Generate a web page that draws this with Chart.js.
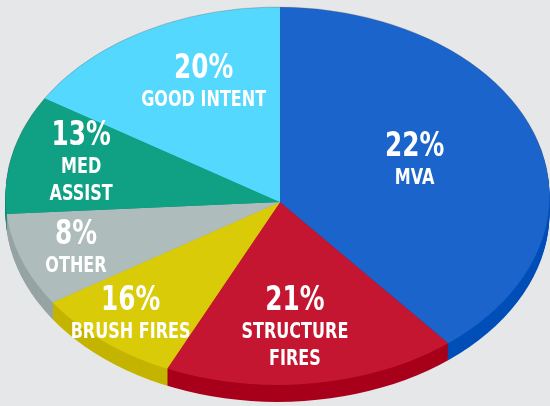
<!DOCTYPE html>
<html>
<head>
<meta charset="utf-8">
<title>Incidents</title>
<script src="https://cdn.jsdelivr.net/npm/chart.js@4.4.1/dist/chart.umd.min.js"></script>
<style>
    html, body { margin: 0; padding: 0; background: #e6e7e9; }
    #wrap { width: 550px; height: 406px; }
</style>
</head>
<body>
<div id="wrap"><canvas id="myChart" width="550" height="406"></canvas></div>
<script>
// data
var categories = [['MVA'], ['STRUCTURE', 'FIRES'], ['BRUSH FIRES'], ['OTHER'], ['MED', 'ASSIST'], ['GOOD INTENT']];
var percentLabels = ['22%', '21%', '16%', '8%', '13%', '20%'];
// slice sizes as they are drawn in the picture
var sliceShares = [39, 18, 9, 8, 10, 16];

// style
var faceColors = ['#1a64cc', '#c41631', '#d9cb07', '#afbcbc', '#10a084', '#55d8fd'];
var sideColors = ['#004fb8', '#a8001b', '#c4b400', '#96a4a4', '#0b8a70', '#3cc0e6'];
var labelDist = [0.54, 0.67, 0.81, 0.79, 0.76, 0.69];
var labelTurn = [-3.8, 2.5, 1.3, -0.3, 1.4, 4.8];   // degrees off the slice middle

var face = { cx: 277.5, cy: 196, rx: 272, ry: 189 };   // outline of the top face
var apex = { x: 280, y: 202 };                          // where the slices meet
var depth = 17;
var FONT = '"Liberation Sans Narrow", "DejaVu Sans Condensed", "Roboto", sans-serif';
var squeeze = 0.81;

function toFace(ctx, arcs, dy) {
    var r = arcs[0].outerRadius;
    ctx.translate(apex.x, apex.y + dy);
    ctx.scale(face.rx * 1.12 / r, face.ry * 1.12 / r);
    ctx.translate(-arcs[0].x, -arcs[0].y);
}

function clipFace(ctx, dy) {
    ctx.beginPath();
    ctx.ellipse(face.cx, face.cy + dy, face.rx, face.ry, 0, 0, Math.PI * 2);
    ctx.clip();
}

function narrowText(ctx, t, x, y) {
    ctx.save();
    ctx.translate(x, y);
    ctx.scale(squeeze, 1);
    ctx.fillText(t, 0, 0);
    ctx.restore();
}

var pie3d = {
    id: 'pie3d',
    beforeDatasetsDraw: function (chart) {
        var ctx = chart.ctx;
        var arcs = chart.getDatasetMeta(0).data;

        // side wall, stacked from the bottom up
        for (var d = depth; d >= 1; d--) {
            ctx.save();
            clipFace(ctx, d);
            toFace(ctx, arcs, d);
            arcs.forEach(function (a, i) {
                ctx.beginPath();
                ctx.moveTo(a.x, a.y);
                ctx.arc(a.x, a.y, a.outerRadius, a.startAngle, a.endAngle);
                ctx.closePath();
                ctx.fillStyle = sideColors[i];
                ctx.fill();
            });
            ctx.restore();
        }

        // top face is drawn by chart.js inside this clip / transform
        ctx.save();
        clipFace(ctx, 0);
        toFace(ctx, arcs, 0);
    },
    afterDatasetsDraw: function (chart) {
        var ctx = chart.ctx;
        ctx.restore();

        ctx.save();
        ctx.beginPath();
        ctx.ellipse(face.cx, face.cy, face.rx, face.ry, 0, Math.PI * 1.02, Math.PI * 1.98);
        ctx.strokeStyle = 'rgba(90,90,90,0.3)';
        ctx.lineWidth = 1;
        ctx.stroke();
        ctx.restore();

        var arcs = chart.getDatasetMeta(0).data;
        ctx.save();
        ctx.fillStyle = '#ffffff';
        ctx.textAlign = 'center';
        ctx.textBaseline = 'middle';
        arcs.forEach(function (a, i) {
            var mid = (a.startAngle + a.endAngle) / 2 + labelTurn[i] * Math.PI / 180;
            var px = apex.x + Math.cos(mid) * labelDist[i] * face.rx;
            var py = apex.y + Math.sin(mid) * labelDist[i] * face.ry + 2;
            var lines = categories[i];
            var h = 31 + 27 * (lines.length - 1);
            var top = py - h / 2;
            ctx.font = 'bold 34px ' + FONT;
            narrowText(ctx, percentLabels[i], px, top);
            ctx.font = 'bold 22px ' + FONT;
            lines.forEach(function (t, j) {
                narrowText(ctx, t, px, top + 31 + 27 * j);
            });
        });
        ctx.restore();
    }
};

var ctx = document.getElementById('myChart');
var myChart = new Chart(ctx, {
    type: 'pie',
    data: {
        labels: categories.map(function (c) { return c.join(' '); }),
        datasets: [{
            data: sliceShares,
            backgroundColor: faceColors,
            borderWidth: 0,
            clip: false
        }]
    },
    options: {
        responsive: false,
        animation: false,
        layout: { padding: 0 },
        plugins: {
            legend: { display: false },
            tooltip: { enabled: false }
        }
    },
    plugins: [pie3d]
});
</script>
</body>
</html>
